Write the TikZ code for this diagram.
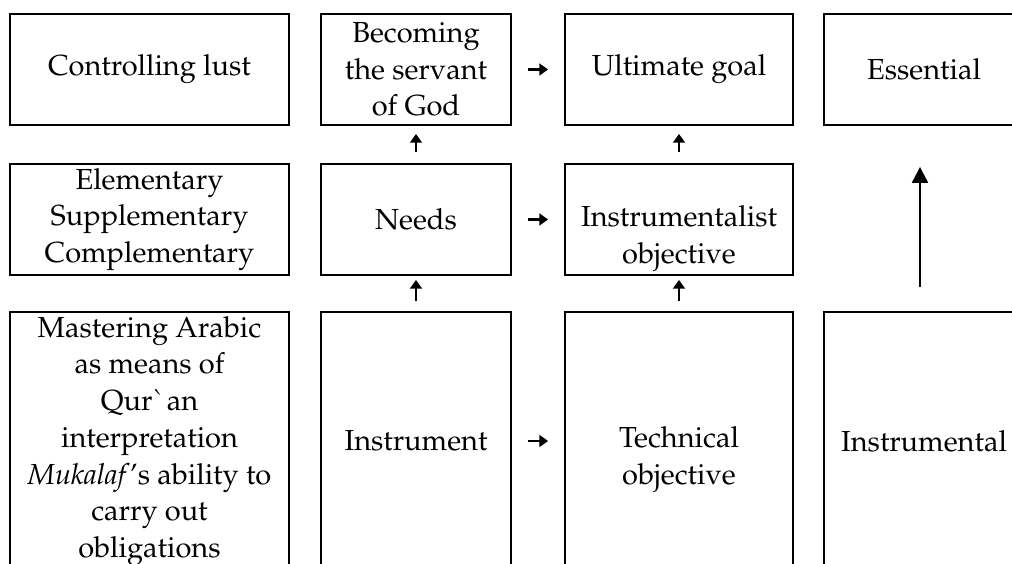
\documentclass[tikz,border=0pt]{standalone}
\usepackage[T1]{fontenc}
\usepackage{mathpazo}
\usetikzlibrary{arrows.meta, positioning}
\tikzset{
every node/.style={font=\fontsize{16.5}{20.9}\selectfont}, % text size of the table cells
>={Triangle[length=5pt, width=6.8pt]}, % small filled heads
cell/.style={draw, line width=1.1pt, align=center, inner sep=0pt}, % one framed cell
wideA/.style={cell, minimum width=5.58cm}, % first column
wideB/.style={cell, minimum width=3.8cm}, % second column
wideC/.style={cell, minimum width=4.56cm}, % third column
wideD/.style={cell, minimum width=4cm}, % last column, cut by the page
short/.style={minimum height=2.22cm}, % upper two rows
tall/.style={minimum height=5.16cm}, % lowest row
link/.style={->, line width=1.2pt}, % arrows between cells
}
\newcommand{\lowertext}[1]{\raisebox{-0.36cm}[\height][\depth]{\begin{tabular}{@{}c@{}}#1\end{tabular}}}

\begin{document}
\begin{tikzpicture}[x=0.02cm, y=-0.02cm]
      \useasboundingbox (0,0) rectangle (1012,564);
      \clip (0,0) rectangle (1012,564);

      % upper row
      \node[wideA, short] (lust) at (149.5,69.5) {Controlling lust};
      \node[wideB, short] (servant) at (416,69.5) {Becoming\\the servant\\of God};
      \node[wideC, short] (goal) at (679,69.5) {Ultimate goal};
      \node[wideD, short] (essen) at (924,69.5) {Essential};

      % middle row
      \node[wideA, short] (levels) at (149.5,219.5) {Elementary\\Supplementary\\Complementary};
      \node[wideB, short] (needs) at (416,219.5) {Needs};
      \node[wideC, short] (instobj) at (679,219.5) {\lowertext{Instrumentalist\\objective}};

      % lowest row
      \node[wideA, tall] (master) at (149.5,441) {Mastering Arabic\\as means of\\Qur\textasciigrave an\\interpretation\\\textit{Mukalaf}'s ability to\\carry out\\obligations};
      \node[wideB, tall] (instr) at (416,441) {Instrument};
      \node[wideC, tall] (techobj) at (679,441) {\lowertext{Technical\\objective}};
      \node[wideD, tall] (instal) at (924,441) {Instrumental};

      \draw[link, shorten <=0.32cm, shorten >=0.32cm] (servant) -- (goal);
      \draw[link, shorten <=0.32cm, shorten >=0.32cm] (needs) -- (instobj);
      \draw[link, shorten <=0.32cm, shorten >=0.32cm] (instr) -- (techobj);
      \draw[link, shorten <=0.22cm, shorten >=0.16cm] (needs) -- (servant);
      \draw[link, shorten <=0.22cm, shorten >=0.16cm] (instobj) -- (goal);
      \draw[link, shorten <=0.2cm, shorten >=0.08cm] (instr) -- (needs);
      \draw[link, shorten <=0.2cm, shorten >=0.08cm] (techobj) -- (instobj);
      \draw[line width=1.2pt, -{Triangle[length=9pt, width=9pt]}, shorten <=0.48cm, shorten >=0.82cm]
      ([xshift=-0.08cm]instal.north) -- ([xshift=-0.08cm]essen.south);
    \end{tikzpicture}
\end{document}
